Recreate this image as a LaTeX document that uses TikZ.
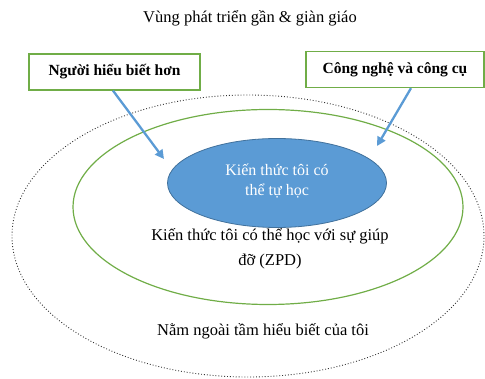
\documentclass[tikz,border=0pt]{standalone}
\usepackage{fontspec}
\setmainfont{Liberation Serif}
\usetikzlibrary{shapes.geometric,arrows.meta}
\definecolor{boxgreen}{HTML}{70AD47}
\definecolor{myblue}{HTML}{5B9BD5}
\definecolor{myblueedge}{HTML}{41719C}
\tikzset{
  lbl/.style={font=\fontsize{16.5}{20}\selectfont, align=center, inner sep=0pt},
  topbox/.style={draw=boxgreen, line width=1.3pt, minimum height=36pt, font=\bfseries\fontsize{15.5}{18}\selectfont, fill=white},
  conn/.style={draw=myblue, line width=2.3pt, -{Triangle[length=9pt,width=9pt]}},
}
\begin{document}
\begin{tikzpicture}[x=1pt,y=-1pt]
\useasboundingbox (0,0) rectangle (485,379);
\node[lbl] (title) at (250,18) {Vùng phát triển gần \& giàn giáo};
\node[draw=black!80, dotted, line width=0.9pt, ellipse, minimum width=472pt, minimum height=282pt, inner sep=0pt] (outer) at (248,236) {};
\node[draw=boxgreen, line width=1.2pt, ellipse, minimum width=390pt, minimum height=195pt, inner sep=0pt] (zpd) at (268,207) {};
\node[draw=myblueedge, line width=0.8pt, fill=myblue, ellipse, minimum width=219pt, minimum height=89pt, inner sep=0pt] (self) at (277,183) {};
\node[lbl, text=white, font=\fontsize{16}{20}\selectfont] (selftext) at (277,181) {Kiến thức tôi có\\thể tự học};
\node[lbl, font=\fontsize{16.5}{25}\selectfont] (zpdtext) at (270,249) {Kiến thức tôi có thể học với sự giúp\\đỡ (ZPD)};
\node[lbl] (outtext) at (263,331) {Nằm ngoài tầm hiểu biết của tôi};
\node[topbox, minimum width=171pt] (mentor) at (114.5,72) {Người hiểu biết hơn};
\node[topbox, minimum width=178pt] (tech) at (395,69.5) {Công nghệ và công cụ};
\coordinate (mtip) at (164,159);
\coordinate (ttip) at (377,146);
\draw[conn] (mentor.south -| 113,0) -- (mtip);
\draw[conn] (tech.south -| 411,0) -- (ttip);
\end{tikzpicture}
\end{document}
